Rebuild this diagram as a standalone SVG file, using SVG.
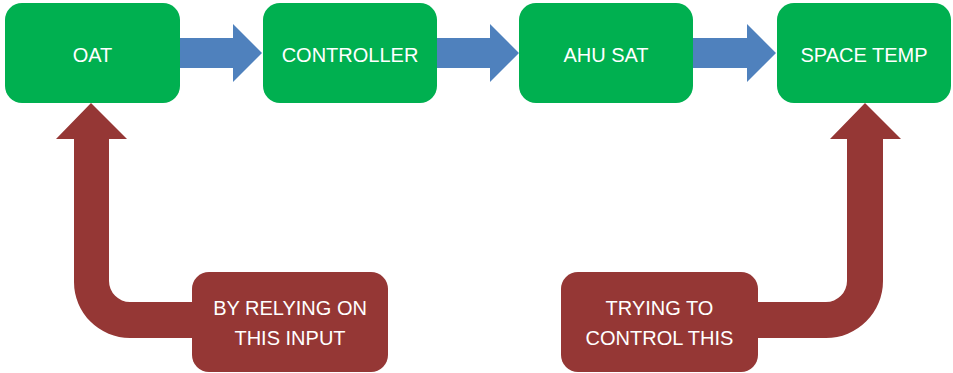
<svg xmlns="http://www.w3.org/2000/svg" width="953" height="373" viewBox="0 0 953 373">
<style>
.g{fill:#00B050}
.r{fill:#953735}
.b{fill:#4F81BD}
.t{font-family:"Liberation Sans",Arial,sans-serif;font-size:20px;fill:#ffffff;text-anchor:middle}
</style>
<rect width="953" height="373" fill="#ffffff"/>
<g id="connectors">
<path class="b" d="M180 38 H233 V24 L262 53 L233 82 V68 H180 Z"/>
<path class="b" d="M437 38 H490 V24 L519 53 L490 82 V68 H437 Z"/>
<path class="b" d="M693 38 H747 V24 L776 53 L747 82 V68 H693 Z"/>
<path class="r" d="M192 302 H130 A21 21 0 0 1 109 281 V139 H127 L91 103 L56 139 H74 V282 A56 56 0 0 0 130 338 H192 Z"/>
<path class="r" d="M758 302 H826 A21 21 0 0 0 847 281 V139 H830 L865 103 L901 139 H883 V281 A57 57 0 0 1 826 338 H758 Z"/>
</g>
<g id="oat"><rect class="g" x="5" y="3" width="175" height="100" rx="17"/><text class="t" x="92.5" y="62">OAT</text></g>
<g id="controller"><rect class="g" x="263" y="3" width="174" height="100" rx="17"/><text class="t" x="350" y="62">CONTROLLER</text></g>
<g id="ahusat"><rect class="g" x="519" y="3" width="174" height="100" rx="17"/><text class="t" x="606" y="62">AHU SAT</text></g>
<g id="spacetemp"><rect class="g" x="777" y="3" width="174" height="100" rx="17"/><text class="t" x="864" y="62">SPACE TEMP</text></g>
<g id="relying"><rect class="r" x="192" y="272" width="196" height="100" rx="17"/><text class="t" x="290" y="315">BY RELYING ON</text><text class="t" x="290" y="345">THIS INPUT</text></g>
<g id="trying"><rect class="r" x="561" y="272" width="197" height="100" rx="17"/><text class="t" x="659.5" y="315">TRYING TO</text><text class="t" x="659.5" y="345">CONTROL THIS</text></g>
</svg>
